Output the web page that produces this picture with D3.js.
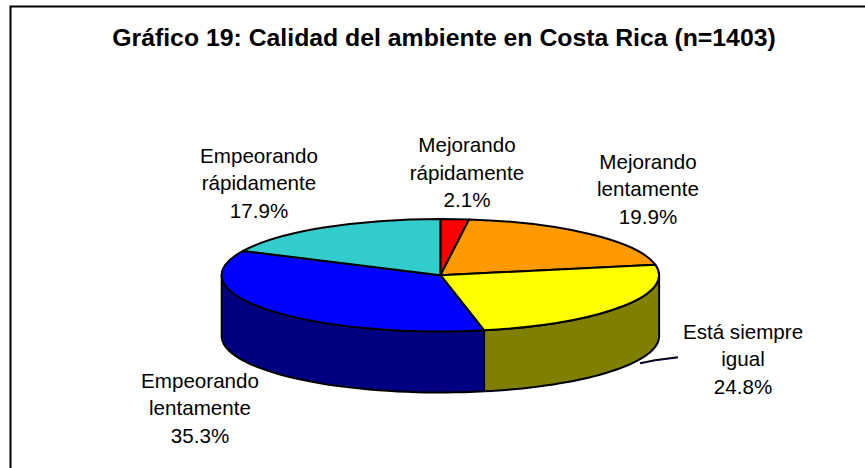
<!DOCTYPE html>
<html><head><meta charset="utf-8">
<script src="https://cdn.jsdelivr.net/npm/d3@7/dist/d3.min.js"></script>
<style>html,body{margin:0;padding:0;background:#fff}svg{display:block}
text{font-family:"Liberation Sans",Arial,sans-serif;fill:#000}</style></head>
<body><svg id="c" width="865" height="468"></svg>
<script>
const categories = ["Mejorando rápidamente","Mejorando lentamente","Está siempre igual","Empeorando lentamente","Empeorando rápidamente"];
const values = [2.1,19.9,24.8,35.3,17.9];
const topColors = ["#ff0000","#ff9900","#ffff00","#0000ff","#33cccc"];
const sideColors = ["#800000","#805000","#808000","#000080","#1a6666"];
const labelLines = [["Mejorando","rápidamente","2.1%"],["Mejorando","lentamente","19.9%"],["Está siempre","igual","24.8%"],["Empeorando","lentamente","35.3%"],["Empeorando","rápidamente","17.9%"]];
const labelPos = [[467,152],[648,168.5],[743,338.5],[200,387.5],[259,162.5]];
const titleText = "Gráfico 19: Calidad del ambiente en Costa Rica (n=1403)";

const W=865,H=468,cx=440.4,cy=275.2,rx=218.7,ry=56.3,depth=61;
const svg=d3.select("#c");
svg.append("rect").attr("x",10.5).attr("y",6.5).attr("width",900).attr("height",520).attr("fill","#fff").attr("stroke","#000").attr("stroke-width",2);
svg.append("text").attr("x",444).attr("y",45.8).attr("text-anchor","middle").attr("font-size",24.8).attr("font-weight","bold").text(titleText);

const pie=d3.pie().sort(null)(values);
const pt=a=>[cx+rx*Math.sin(a),cy-ry*Math.cos(a)];
const g=svg.append("g");
const lineGen=d3.line();
// leader line for "Está siempre igual", behind the pie wall
const leaderData=[[640,363],[655,360],[678,357]];
svg.append("path").attr("d",lineGen(leaderData.map(q=>[q[0],q[1]+0.8]))).attr("fill","none").attr("stroke","#000080").attr("stroke-width",1);
svg.append("path").attr("d",lineGen(leaderData)).attr("fill","none").attr("stroke","#000").attr("stroke-width",1.3);
// side walls (front half only)
pie.forEach((p,i)=>{
  const a0=Math.max(p.startAngle,Math.PI/2),a1=Math.min(p.endAngle,3*Math.PI/2);
  if(a1<=a0)return;
  const top=d3.range(0,41).map(k=>pt(a0+(a1-a0)*k/40));
  const bottom=top.slice().reverse().map(q=>[q[0],q[1]+depth]);
  g.append("path").attr("d",lineGen(top.concat(bottom))+"Z").attr("fill",sideColors[i]).attr("stroke","#000").attr("stroke-width",2).attr("stroke-linejoin","round");
});
g.raise();
// top faces
const arc=d3.arc().innerRadius(0).outerRadius(rx);
const topG=g.append("g").attr("transform",`translate(${cx},${cy}) scale(1,${ry/rx})`);
topG.selectAll("path").data(pie).join("path").attr("d",arc).attr("fill",(d,i)=>topColors[i])
  .attr("stroke","#000").attr("stroke-width",2).attr("stroke-linejoin","round").attr("vector-effect","non-scaling-stroke");
// labels
labelLines.forEach((ls,i)=>{
  const t=svg.append("text").attr("text-anchor","middle").attr("font-size",20.6);
  ls.forEach((s,j)=>t.append("tspan").attr("x",labelPos[i][0]).attr("y",labelPos[i][1]+j*27.6).text(s));
});
</script></body></html>
